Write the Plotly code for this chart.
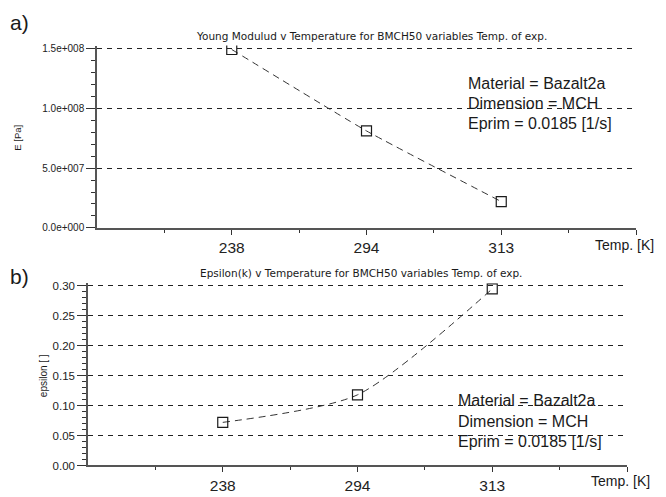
import plotly.graph_objects as go

# page body has an 8px margin; the figure is sized/offset to compensate
OFF = 8
W, H = 666 - OFF, 497 - OFF

temps = ["238", "294", "313"]
young_modulus = [1.49e8, 8.1e7, 2.2e7]
epsilon = [0.072, 0.118, 0.295]

ya_tick_vals = [0, 5e7, 1e8, 1.5e8]
ya_tick_text = ["0.0e+000", "5.0e+007", "1.0e+008", "1.5e+008"]
yb_tick_vals = [0.0, 0.05, 0.10, 0.15, 0.20, 0.25, 0.30]
yb_tick_text = ["0.00", "0.05", "0.10", "0.15", "0.20", "0.25", "0.30"]

title_a = "Young Modulud v Temperature for BMCH50 variables Temp. of exp."
title_b = "Epsilon(k) v Temperature for BMCH50 variables Temp. of exp."
info_lines = ["Material = Bazalt2a", "Dimension = MCH", "Eprim = 0.0185 [1/s]"]

xpos = list(range(1, len(temps) + 1))

def px(x):
    return (x - OFF) / W

def py(y):
    return 1 - (y - OFF) / H

# small headroom so the top gridline is not clipped at the range end
EXT = 0.015

def ydomain(y0_px, ytop_px):
    top = y0_px - (y0_px - ytop_px) * (1 + EXT)
    return [py(y0_px), py(top)]

FONT = "Liberation Sans, Arial, sans-serif"
TFONT = "DejaVu Sans, sans-serif"
INK = "#1a1a1a"

fig = go.Figure()

marker = dict(symbol="square-open", size=10, color=INK, line=dict(width=1.2, color=INK))
fig.add_trace(go.Scatter(x=xpos, y=young_modulus, mode="lines+markers", xaxis="x", yaxis="y",
                         line=dict(color="#333", width=1, dash="7px,5px", shape="spline", smoothing=0.4),
                         marker=marker, showlegend=False))
fig.add_trace(go.Scatter(x=xpos, y=epsilon, mode="lines+markers", xaxis="x2", yaxis="y2",
                         line=dict(color="#333", width=1, dash="7px,5px", shape="spline", smoothing=0.7),
                         marker=marker, showlegend=False))

xcommon = dict(range=[0, 4], tickvals=xpos + [4], ticktext=temps + [""], ticks="outside", ticklen=5,
               tickcolor="#333", showline=True, linecolor="#555", linewidth=1.5, showgrid=False,
               zeroline=False, tickfont=dict(family=FONT, size=15.5, color="#222"),
               minor=dict(tickvals=[0.5, 1.5, 2.5, 3.5], ticks="outside", ticklen=3, tickcolor="#333"))
ycommon = dict(ticks="outside", ticklen=9, tickcolor="#333", showline=True, linecolor="#555",
               linewidth=1.5, showgrid=True, gridcolor="#222", griddash="5px,5px", gridwidth=1,
               zeroline=False)

fig.update_layout(
    width=W, height=H,
    margin=dict(l=0, r=0, t=0, b=0),
    paper_bgcolor="white", plot_bgcolor="white",
    xaxis=dict(domain=[px(97), px(636)], anchor="y", **xcommon),
    yaxis=dict(domain=ydomain(229, 46), anchor="x", range=[0, ya_tick_vals[-1] * (1 + EXT)],
               tickvals=ya_tick_vals, ticktext=ya_tick_text,
               tickfont=dict(family=FONT, size=10, color="#222"),
               minor=dict(dtick=1e7, ticks="outside", ticklen=4, tickcolor="#333"), **ycommon),
    xaxis2=dict(domain=[px(88), px(627)], anchor="y2", **xcommon),
    yaxis2=dict(domain=ydomain(471, 288), anchor="x2", range=[0, yb_tick_vals[-1] * (1 + EXT)],
                tickvals=yb_tick_vals, ticktext=yb_tick_text,
                tickfont=dict(family=FONT, size=11.5, color="#222"),
                minor=dict(dtick=0.01, ticks="outside", ticklen=4, tickcolor="#333"), **ycommon),
)

ann = []
def add(text, x, y, size, xanchor="center", yanchor="middle", angle=0, family=FONT):
    ann.append(dict(text=text, x=px(x), y=py(y), xref="paper", yref="paper", showarrow=False,
                    xanchor=xanchor, yanchor=yanchor, textangle=angle,
                    font=dict(family=family, size=size, color=INK)))

add("a)", 8, 20, 21, xanchor="left")
add("b)", 8, 278, 21, xanchor="left")
add(title_a, 371, 33, 10.5, family=TFONT)
add(title_b, 361, 275, 10.5, family=TFONT)
add("E [Pa]", 18, 137, 9.5, angle=-90)
add("epsilon [ ]", 43, 380, 10, angle=-90)
add("Temp. [K]", 593, 246, 14, xanchor="left")
add("Temp. [K]", 589, 487, 14, xanchor="left")
for i, t in enumerate(info_lines):
    add(t, 466, 82 + 20.5 * i, 16, xanchor="left")
    add(t, 456, 405 + 21 * i, 16, xanchor="left")

fig.update_layout(annotations=ann)
fig.write_html("out.html")
